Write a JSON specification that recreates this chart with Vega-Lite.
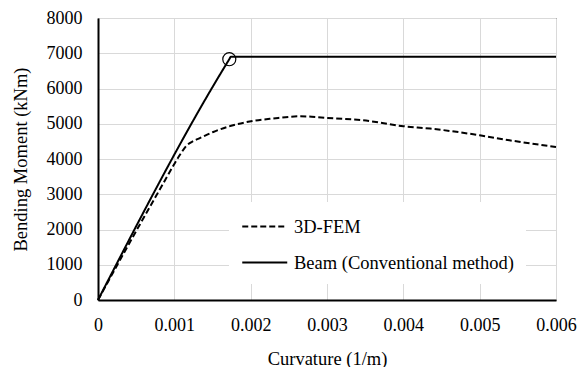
{
  "$schema": "https://vega.github.io/schema/vega-lite/v6.json",
  "width": 458,
  "height": 282,
  "autosize": {"type": "none"},
  "padding": {"left": 98, "top": 18, "right": 26, "bottom": 67},
  "background": "white",
  "config": {
    "view": {"stroke": "black", "strokeWidth": 1},
    "style": {
      "guide-label": {"font": "Liberation Serif", "fontSize": 18, "fill": "black"},
      "guide-title": {"font": "Liberation Serif", "fontSize": 18.5, "fill": "black", "fontWeight": "normal"}
    }
  },
  "encoding": {
    "x": {
      "field": "k", "type": "quantitative",
      "scale": {"domain": [0, 0.006], "nice": false},
      "axis": {
        "values": [0, 0.001, 0.002, 0.003, 0.004, 0.005, 0.006],
        "format": "~g",
        "title": "Curvature (1/m)",
        "titleFont": "Liberation Serif", "titleFontSize": 18.5, "titleFontWeight": "normal", "titleColor": "black", "titlePadding": 15,
        "labelFont": "Liberation Serif", "labelFontSize": 18, "labelColor": "black", "labelPadding": 16, "labelOverlap": false, "labelFlush": false,
        "ticks": false, "domainColor": "black", "domainWidth": 2,
        "gridColor": "#d9d9d9", "gridWidth": 1
      }
    },
    "y": {
      "field": "m", "type": "quantitative",
      "scale": {"domain": [0, 8000], "nice": false},
      "axis": {
        "values": [0, 1000, 2000, 3000, 4000, 5000, 6000, 7000, 8000],
        "format": "d",
        "title": "Bending Moment (kNm)",
        "titleFont": "Liberation Serif", "titleFontSize": 18.5, "titleFontWeight": "normal", "titleColor": "black", "titlePadding": 16,
        "labelFont": "Liberation Serif", "labelFontSize": 18, "labelColor": "black", "labelPadding": 16, "labelOverlap": false, "labelFlush": false,
        "ticks": false, "domainColor": "black", "domainWidth": 2,
        "gridColor": "#d9d9d9", "gridWidth": 1
      }
    }
  },
  "layer": [
    {
      "data": {
        "values": [
          {"series": "3D-FEM", "k": 0, "m": 0},
          {"series": "3D-FEM", "k": 0.0002, "m": 790},
          {"series": "3D-FEM", "k": 0.0004, "m": 1570},
          {"series": "3D-FEM", "k": 0.0006, "m": 2340},
          {"series": "3D-FEM", "k": 0.0008, "m": 3100},
          {"series": "3D-FEM", "k": 0.0009, "m": 3480},
          {"series": "3D-FEM", "k": 0.001, "m": 3860},
          {"series": "3D-FEM", "k": 0.00108, "m": 4140},
          {"series": "3D-FEM", "k": 0.00116, "m": 4380},
          {"series": "3D-FEM", "k": 0.00125, "m": 4510},
          {"series": "3D-FEM", "k": 0.00134, "m": 4600},
          {"series": "3D-FEM", "k": 0.00151, "m": 4767},
          {"series": "3D-FEM", "k": 0.00177, "m": 4957},
          {"series": "3D-FEM", "k": 0.00203, "m": 5080},
          {"series": "3D-FEM", "k": 0.00229, "m": 5148},
          {"series": "3D-FEM", "k": 0.00264, "m": 5210},
          {"series": "3D-FEM", "k": 0.0028, "m": 5200},
          {"series": "3D-FEM", "k": 0.003, "m": 5165},
          {"series": "3D-FEM", "k": 0.00347, "m": 5100},
          {"series": "3D-FEM", "k": 0.004, "m": 4930},
          {"series": "3D-FEM", "k": 0.00435, "m": 4863},
          {"series": "3D-FEM", "k": 0.005, "m": 4673},
          {"series": "3D-FEM", "k": 0.00539, "m": 4531},
          {"series": "3D-FEM", "k": 0.006, "m": 4341},
          {"series": "Beam (Conventional method)", "k": 0, "m": 0},
          {"series": "Beam (Conventional method)", "k": 0.00172, "m": 6830},
          {"series": "Beam (Conventional method)", "k": 0.00174, "m": 6900},
          {"series": "Beam (Conventional method)", "k": 0.006, "m": 6900}
        ]
      },
      "mark": {"type": "line", "color": "black", "strokeWidth": 2, "interpolate": "monotone"},
      "encoding": {
        "strokeDash": {
          "field": "series", "type": "nominal",
          "scale": {"domain": ["3D-FEM", "Beam (Conventional method)"], "range": [[6, 3], [1, 0]]},
          "legend": {
            "title": null,
            "orient": "none",
            "legendX": 131,
            "legendY": 184,
            "fillColor": "white",
            "padding": 12,
            "rowPadding": 14,
            "symbolType": "M-1,0H3",
            "symbolSize": 506,
            "symbolStrokeWidth": 2,
            "symbolStrokeColor": "black",
            "labelFont": "Liberation Serif",
            "labelFontSize": 18.5,
            "labelColor": "black",
            "labelOffset": 28,
            "labelLimit": 400
          }
        }
      }
    },
    {
      "data": {"values": [{"k": 0.00172, "m": 6830}]},
      "mark": {"type": "point", "shape": "circle", "filled": false, "color": "black", "strokeWidth": 1.2, "size": 170, "opacity": 1}
    }
  ]
}
